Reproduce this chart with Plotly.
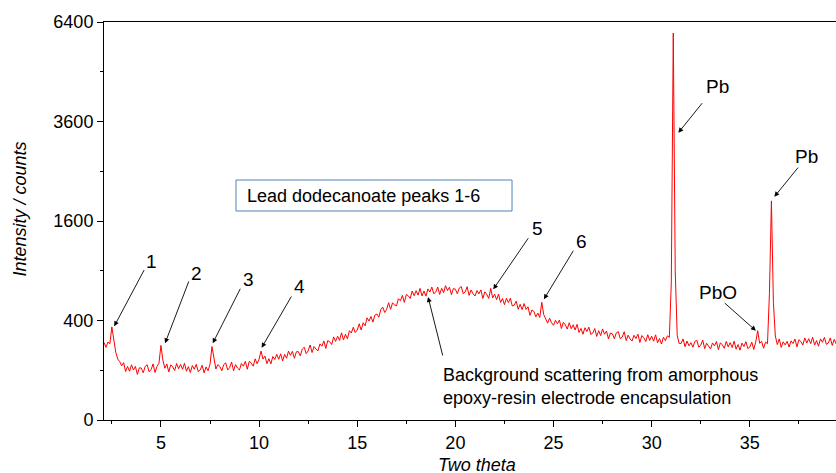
import numpy as np
import plotly.graph_objects as go

# ---------------- data ----------------
two_theta_start = 2.1
two_theta_step = 0.1
intensity_counts = [
    243, 213, 246, 235, 350, 250, 185, 150, 138,                 # 2.1-2.9
    119, 133, 95, 116, 96, 123, 101, 116, 84, 110,               # 3
    109, 90, 116, 123, 94, 103, 127, 91, 116, 130,               # 4
    225, 145, 108, 127, 93, 123, 114, 99, 129, 106,              # 5
    125, 104, 130, 96, 115, 91, 120, 104, 125, 95,               # 6
    101, 121, 90, 114, 98, 125, 218, 150, 105, 124,              # 7
    116, 98, 124, 132, 101, 111, 136, 98, 124, 109,              # 8
    101, 129, 117, 139, 104, 139, 131, 117, 151, 128,            # 9
    150, 192, 150, 165, 128, 152, 127, 163, 148, 174,            # 10
    149, 177, 141, 174, 154, 192, 169, 191, 154, 188,            # 11
    189, 166, 203, 214, 178, 193, 227, 184, 218, 203,            # 12
    193, 234, 220, 252, 207, 255, 247, 230, 279, 250,            # 13
    284, 256, 307, 259, 297, 266, 322, 306, 348, 309,            # 14
    327, 374, 327, 382, 358, 422, 395, 433, 387, 444,            # 15
    454, 427, 491, 515, 467, 496, 556, 495, 554, 536,            # 16
    526, 595, 575, 628, 559, 636, 624, 597, 672, 624,            # 17
    676, 630, 700, 622, 672, 619, 694, 661, 714, 644,            # 18
    661, 714, 637, 701, 655, 729, 677, 713, 635, 698,            # 19
    691, 644, 704, 719, 644, 663, 718, 627, 683, 644,            # 20
    621, 677, 643, 684, 597, 664, 638, 597, 700, 602,            # 21
    639, 585, 641, 558, 596, 537, 598, 557, 599, 525,            # 22
    533, 571, 495, 541, 492, 548, 494, 518, 442, 489,            # 23
    475, 430, 462, 425, 560, 450, 415, 379, 419, 382,            # 24
    362, 402, 374, 404, 338, 386, 366, 334, 382, 337,            # 25
    366, 327, 370, 310, 339, 297, 344, 316, 349, 296,            # 26
    305, 338, 282, 322, 288, 335, 297, 320, 265, 306,            # 27
    300, 267, 307, 315, 267, 278, 315, 255, 291, 265,            # 28
    252, 290, 268, 297, 243, 288, 273, 249, 294, 256,            # 29
    284, 251, 293, 241, 268, 233, 277, 254, 286, 275,            # 30
    760, 6050, 900, 290, 236, 237, 266, 217, 252, 222,           # 31
    242, 214, 249, 257, 214, 226, 258, 206, 238, 217,            # 32
    204, 240, 222, 249, 200, 241, 228, 208, 249, 216,            # 33
    242, 212, 251, 203, 230, 197, 239, 218, 248, 206,            # 34
    215, 245, 201, 245, 322, 238, 250, 208, 245, 235,            # 35
    650, 1940, 560, 285, 230, 266, 213, 247, 228, 250,           # 36
    215, 253, 236, 265, 216, 261, 249, 227, 272, 239,            # 37
    267, 235, 277, 227, 255, 220, 266, 244, 276, 231,            # 38
    240, 272, 224, 263, 234, 279,                                # 39.0-39.5
]

x_range = [2.1, 39.39]
x_tick_values = [5, 10, 15, 20, 25, 30, 35]
x_minor_values = [2.5, 7.5, 12.5, 17.5, 22.5, 27.5, 32.5, 37.5]
y_tick_counts = [0, 400, 1600, 3600, 6400]
y_minor_counts = [100, 900, 2500, 4900]

# peak labels and where their arrows point (two-theta, counts)
peak_labels = ["1", "2", "3", "4", "5", "6", "PbO", "Pb", "Pb"]
peak_tip_theta = [2.62, 5.21, 7.64, 10.13, 21.93, 24.51, 35.31, 31.36, 36.25]
peak_tip_counts = [355, 238, 238, 211, 690, 589, 322, 3335, 2014]

background_text = "Background scattering from amorphous<br>epoxy-resin electrode encapsulation"
background_tip_theta = 18.61
background_tip_counts = 611
box_text = "Lead dodecanoate peaks 1-6"

# ---------------- styling (pixel offsets) ----------------
arrow_dx = [30.7, 24.3, 28.3, 30.6, 36.0, 30.3, -32.7, 25.0, 25.0]
arrow_dy = [-57.7, -63.3, -56.0, -52.7, -52.6, -50.0, -29.0, -31.0, -30.7]
text_dx = [37.4, 31.7, 35.6, 37.6, 44.0, 37.7, -37.7, 39.0, 32.4]
text_dy = [64.3, 70.0, 63.3, 61.0, 61.0, 57.6, 38.4, 46.0, 40.0]

FONT = "Liberation Sans, Arial, Helvetica, sans-serif"

counts = np.array(intensity_counts, dtype=float)
two_theta = np.round(two_theta_start + two_theta_step * np.arange(len(counts)), 2)
sqrt_counts = np.sqrt(counts)

fig = go.Figure()
fig.add_trace(go.Scatter(x=two_theta, y=sqrt_counts, mode="lines",
                         line=dict(color="#ff0000", width=1), hoverinfo="skip"))

annotations = []
for lab, tx, tc, adx, ady, tdx, tdy in zip(peak_labels, peak_tip_theta, peak_tip_counts,
                                           arrow_dx, arrow_dy, text_dx, text_dy):
    ty = float(np.sqrt(tc))
    annotations.append(dict(x=tx, y=ty, xref="x", yref="y", text="", showarrow=True,
                            ax=adx, ay=ady, arrowhead=2, arrowsize=1.1, arrowwidth=0.9,
                            arrowcolor="black", standoff=0, startstandoff=0))
    annotations.append(dict(x=tx, y=ty, xref="x", yref="y", text=lab, showarrow=False,
                            xshift=tdx, yshift=tdy,
                            font=dict(size=19, color="black", family=FONT)))

bg_y = float(np.sqrt(background_tip_counts))
annotations.append(dict(x=background_tip_theta, y=bg_y, xref="x", yref="y", text="",
                        showarrow=True, ax=15, ay=60, arrowhead=2, arrowsize=1.1,
                        arrowwidth=0.9, arrowcolor="black", standoff=0, startstandoff=0))
annotations.append(dict(x=background_tip_theta, y=bg_y, xref="x", yref="y",
                        text=background_text, showarrow=False, align="left",
                        xanchor="left", yanchor="middle", xshift=13, yshift=-89,
                        font=dict(size=18, color="black", family=FONT)))

# boxed label
annotations.append(dict(x=0.1926, y=0.564, xref="paper", yref="paper", text=box_text,
                        showarrow=False, xanchor="left", yanchor="middle",
                        font=dict(size=18, color="black", family=FONT)))

# axis titles
annotations.append(dict(x=-0.114, y=0.53, xref="paper", yref="paper",
                        text="<i>Intensity / counts</i>", showarrow=False, textangle=-90,
                        xanchor="center", yanchor="middle",
                        font=dict(size=18, color="black", family=FONT)))
annotations.append(dict(x=0.509, y=-0.113, xref="paper", yref="paper",
                        text="<i>Two theta</i>", showarrow=False,
                        xanchor="center", yanchor="middle",
                        font=dict(size=18, color="black", family=FONT)))

fig.update_layout(
    width=836, height=473,
    margin=dict(l=104, r=0, t=22, b=53),
    plot_bgcolor="white", paper_bgcolor="white",
    showlegend=False,
    font=dict(family=FONT, size=18, color="black"),
    annotations=annotations,
    shapes=[dict(type="rect", xref="paper", yref="paper",
                 x0=0.1803, x1=0.5574, y0=0.5251, y1=0.603,
                 line=dict(color="#4f81bd", width=1), fillcolor="rgba(0,0,0,0)")],
)

fig.update_xaxes(range=x_range, tickvals=x_tick_values, ticks="outside", ticklen=6,
                 tickwidth=1, tickcolor="black", showline=True, linecolor="black",
                 linewidth=1, mirror=True, showgrid=False, zeroline=False,
                 tickfont=dict(size=18, family=FONT),
                 minor=dict(tickvals=x_minor_values, ticks="outside", ticklen=3,
                            tickcolor="black"))
fig.update_yaxes(range=[0, 80], tickvals=[float(np.sqrt(v)) for v in y_tick_counts],
                 ticktext=[str(v) for v in y_tick_counts], ticks="outside", ticklen=6,
                 tickwidth=1, tickcolor="black", showline=True, linecolor="black",
                 linewidth=1, mirror=False, showgrid=False, zeroline=False,
                 tickfont=dict(size=18, family=FONT),
                 minor=dict(tickvals=[float(np.sqrt(v)) for v in y_minor_counts],
                            ticks="outside", ticklen=3, tickcolor="black"))

# remove the browser's default page margin so the 836x473 figure fills the window
fig.write_html("out.html",
               config={"displayModeBar": False},
               post_script="document.body.style.margin='0px';"
                           "document.body.style.overflow='hidden';")
